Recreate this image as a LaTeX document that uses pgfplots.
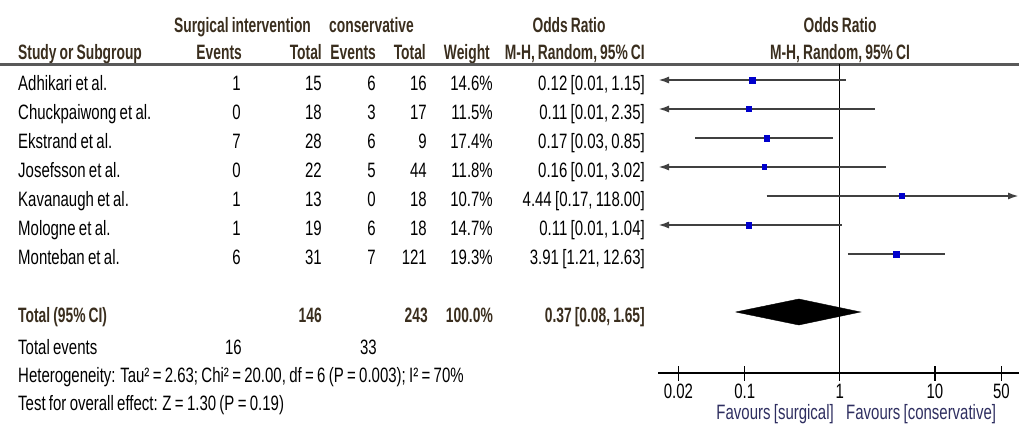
\documentclass[border=0pt]{standalone}
\usepackage{pgfplots}
\pgfplotsset{compat=1.18}
\usepackage{fontspec}
\setmainfont{Liberation Sans}[FakeStretch=0.72, WordSpace=0.8, BoldFeatures={FakeStretch=0.665}]
\usetikzlibrary{arrows.meta}
\definecolor{headcol}{HTML}{3A2E1E}
\definecolor{favcol}{HTML}{2E2E60}
\definecolor{sqcol}{HTML}{0000CC}
\definecolor{cicol}{HTML}{404040}
\newcommand{\fs}{\fontsize{20.8}{23}\selectfont}
\newcommand{\row}[8]{%
  \node[anchor=base west] at (18,-#1) {#2};
  \node[anchor=base east] at (241,-#1) {#3};
  \node[anchor=base east] at (322,-#1) {#4};
  \node[anchor=base east] at (376,-#1) {#5};
  \node[anchor=base east] at (427,-#1) {#6};
  \node[anchor=base east] at (493,-#1) {#7};
  \node[anchor=base east] at (645,-#1) {#8};
}
\begin{document}
\begin{tikzpicture}[x=1pt,y=1pt, every node/.style={inner sep=0pt, font=\fs}]
\useasboundingbox (0,0) rectangle (1019,-423);

% header
\begin{scope}[every node/.style={inner sep=0pt, font=\fs\bfseries, text=headcol}]
\node[anchor=base] at (242.5,-32) {Surgical intervention};
\node[anchor=base] at (371.5,-32) {conservative};
\node[anchor=base] at (569,-32) {Odds Ratio};
\node[anchor=base] at (840,-32) {Odds Ratio};
\node[anchor=base west] at (18,-59) {Study or Subgroup};
\node[anchor=base east] at (242,-59) {Events};
\node[anchor=base east] at (322,-59) {Total};
\node[anchor=base east] at (376,-59) {Events};
\node[anchor=base east] at (426,-59) {Total};
\node[anchor=base east] at (490,-59) {Weight};
\node[anchor=base east] at (645,-59) {M-H, Random, 95\% CI};
\node[anchor=base] at (840,-59) {M-H, Random, 95\% CI};
\end{scope}
\draw[line width=2.5pt, black!65] (0,-64.5) -- (1019,-64.5);

% study rows
\row{90.5}{Adhikari et al.}{1}{15}{6}{16}{14.6\%}{0.12 [0.01, 1.15]}
\row{119.5}{Chuckpaiwong et al.}{0}{18}{3}{17}{11.5\%}{0.11 [0.01, 2.35]}
\row{148.5}{Ekstrand et al.}{7}{28}{6}{9}{17.4\%}{0.17 [0.03, 0.85]}
\row{177.5}{Josefsson et al.}{0}{22}{5}{44}{11.8\%}{0.16 [0.01, 3.02]}
\row{206.5}{Kavanaugh et al.}{1}{13}{0}{18}{10.7\%}{4.44 [0.17, 118.00]}
\row{235.5}{Mologne et al.}{1}{19}{6}{18}{14.7\%}{0.11 [0.01, 1.04]}
\row{264.5}{Monteban et al.}{6}{31}{7}{121}{19.3\%}{3.91 [1.21, 12.63]}

% total
\begin{scope}[every node/.style={inner sep=0pt, font=\fs\bfseries, text=headcol}]
\node[anchor=base west] at (18,-322) {Total (95\% CI)};
\node[anchor=base east] at (322,-322) {146};
\node[anchor=base east] at (428,-322) {243};
\node[anchor=base east] at (493,-322) {100.0\%};
\node[anchor=base east] at (645,-322) {0.37 [0.08, 1.65]};
\end{scope}
\node[anchor=base west] at (18,-354) {Total events};
\node[anchor=base east] at (242,-354) {16};
\node[anchor=base east] at (377,-354) {33};
\node[anchor=base west] at (18,-382) {Heterogeneity: Tau² = 2.63; Chi² = 20.00, df = 6 (P = 0.003); I² = 70\%};
\node[anchor=base west] at (18,-410) {Test for overall effect: Z = 1.30 (P = 0.19)};

\begin{axis}[
  at={(658pt,-373pt)}, anchor=south west,
  scale only axis, width=361pt, height=309pt,
  xmode=log, xmin=0.01222, xmax=76.56,
  ymin=-373, ymax=-64,
  axis y line=none, axis x line=bottom,
  x axis line style={-, line width=1.5pt, black},
  xtick={0.02,0.1,1,10,50}, xticklabels={0.02,0.1,1,10,50},
  minor xtick={},
  tick align=center, major tick length=15pt,
  every tick/.style={black, line width=1.2pt},
  xticklabel style={yshift=-3pt, font=\fs},
  clip=false,
  every mark/.append style={yscale=1.4},
]
\addplot[black, line width=1pt] coordinates {(1,-64) (1,-373)};
% confidence intervals
\addplot[cicol, line width=2pt, {Latex[length=11pt,width=7pt]}-] coordinates {(0.01222,-80) (1.15,-80)};
\addplot[cicol, line width=2pt, {Latex[length=11pt,width=7pt]}-] coordinates {(0.01222,-109) (2.35,-109)};
\addplot[cicol, line width=2pt] coordinates {(0.03,-138) (0.85,-138)};
\addplot[cicol, line width=2pt, {Latex[length=11pt,width=7pt]}-] coordinates {(0.01222,-167) (3.02,-167)};
\addplot[cicol, line width=2pt, -{Latex[length=11pt,width=7pt]}] coordinates {(0.17,-196) (76.56,-196)};
\addplot[cicol, line width=2pt, {Latex[length=11pt,width=7pt]}-] coordinates {(0.01222,-225) (1.04,-225)};
\addplot[cicol, line width=2pt] coordinates {(1.21,-254) (12.63,-254)};
% point estimates
\addplot[only marks, mark=square*, sqcol, mark size=2.7pt] coordinates {(0.12,-80)};
\addplot[only marks, mark=square*, sqcol, mark size=2.4pt] coordinates {(0.11,-109)};
\addplot[only marks, mark=square*, sqcol, mark size=2.95pt] coordinates {(0.17,-138)};
\addplot[only marks, mark=square*, sqcol, mark size=2.45pt] coordinates {(0.16,-167)};
\addplot[only marks, mark=square*, sqcol, mark size=2.35pt] coordinates {(4.44,-196)};
\addplot[only marks, mark=square*, sqcol, mark size=2.7pt] coordinates {(0.11,-225)};
\addplot[only marks, mark=square*, sqcol, mark size=3.1pt] coordinates {(3.91,-254)};
% pooled estimate
\addplot[fill=black, draw=black] coordinates {(0.08,-312) (0.37,-299) (1.65,-312) (0.37,-325) (0.08,-312)};
\end{axis}

\node[anchor=base east, text=favcol] at (834,-419) {Favours [surgical]};
\node[anchor=base west, text=favcol] at (846,-419) {Favours [conservative]};
\end{tikzpicture}
\end{document}
